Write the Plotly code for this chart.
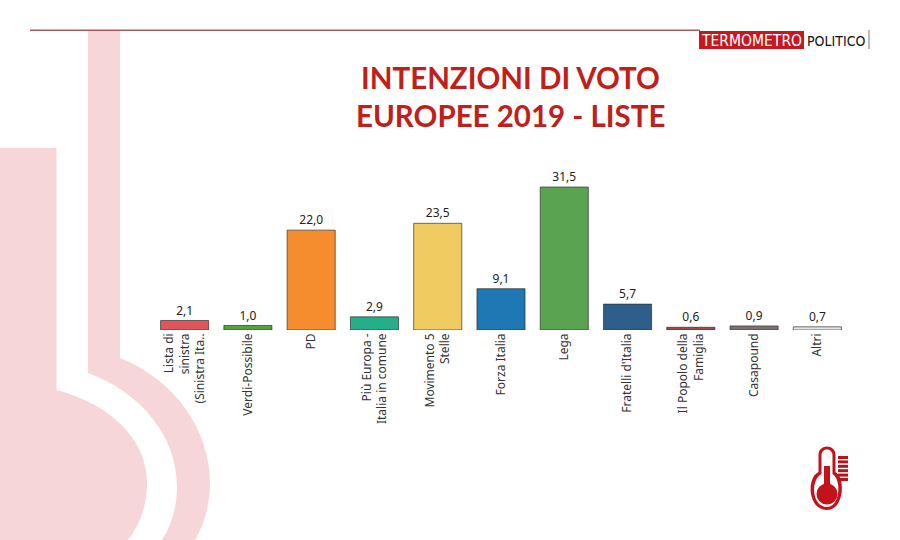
import plotly.graph_objects as go

categories = ["Lista di<br>sinistra<br>(Sinistra Ita..", "Verdi-Possibile", "PD",
              "Più Europa -<br>Italia in comune", "Movimento 5<br>Stelle", "Forza Italia",
              "Lega", "Fratelli d'Italia", "Il Popolo della<br>Famiglia", "Casapound", "Altri"]
values = [2.1, 1.0, 22.0, 2.9, 23.5, 9.1, 31.5, 5.7, 0.6, 0.9, 0.7]
bar_colors = ["#E0575B", "#55A23C", "#F58D2E", "#25AE88", "#EFCB62", "#1F77B4",
              "#5AA351", "#2D5F8A", "#A5474B", "#7B7272", "#E4E4E4"]
title_lines = ["INTENZIONI DI VOTO", "EUROPEE 2019 - LISTE"]

W, H = 900, 540
L, R, T, B = 153, 51, 170, 210
PW, PH = W - L - R, H - T - B
def px(x): return (x - L) / PW
def py(y): return 1 - (y - T) / PH
def path(cmds):
    out = []
    for c in cmds:
        if isinstance(c, str):
            out.append(c)
        else:
            out.append(f"{px(c[0]):.5f},{py(c[1]):.5f}")
    return " ".join(out)

PINK = "#F6D6D8"
RED = "#C4121A"
shapes = []
def shp(cmds, fill, layer="below"):
    shapes.append(dict(type="path", xref="paper", yref="paper", path=path(cmds),
                       fillcolor=fill, line=dict(width=0), layer=layer))
def circle(cx, cy, r, fill):
    shapes.append(dict(type="circle", xref="paper", yref="paper",
                       x0=px(cx - r), x1=px(cx + r), y0=py(cy + r), y1=py(cy - r),
                       fillcolor=fill, line=dict(width=0), layer="above"))
def rect(x0, y0, x1, y1, fill, layer="above"):
    shapes.append(dict(type="rect", xref="paper", yref="paper",
                       x0=px(x0), x1=px(x1), y0=py(y1), y1=py(y0),
                       fillcolor=fill, line=dict(width=0), layer=layer))

# background thermometer silhouette
shp(["M", (0, 148), "L", (56.5, 148), "L", (56.5, 390),
     "C", (112, 405), (147, 440), (147, 483),
     "C", (147, 505), (140, 525), (128, 540), "L", (0, 540), "Z"], PINK)
shp(["M", (88, 30), "L", (120, 30), "L", (120, 358),
     "C", (175, 380), (210, 430), (210, 483),
     "C", (210, 505), (204, 525), (195, 540), "L", (162, 540),
     "C", (172, 525), (177, 505), (177, 487),
     "C", (177, 435), (140, 392), (88, 373), "Z"], PINK)

# header rule and logo
rect(30, 29.5, 700, 31, "#A85A5C")
rect(699, 31, 804, 49, "#C8171F")
rect(868, 30, 870, 49, "#BBBBBB")

# thermometer icon
shp(["M", (818.5, 472), "L", (818.5, 455), "C", (818.5, 443.5), (835.5, 443.5), (835.5, 455), "L", (835.5, 472),
     "C", (846, 478), (844, 510), (827, 510), "C", (808, 510), (806, 478), (818.5, 472), "Z"], RED, "above")
shp(["M", (821.5, 474), "L", (821.5, 455), "C", (821.5, 447.5), (832.5, 447.5), (832.5, 455), "L", (832.5, 474),
     "C", (842, 480), (840, 507), (827, 507), "C", (812, 507), (810, 480), (821.5, 474), "Z"], "#FFFFFF", "above")
rect(824, 466, 830, 490, RED)
circle(827, 494, 10.5, RED)
for i in range(6):
    rect(838, 456 + i * 4.4, 848, 459 + i * 4.4, "#B5141C")

annotations = [
    dict(text=title_lines[0], x=px(510.5), y=py(77.5), xref="paper", yref="paper", showarrow=False,
         font=dict(family="Lato", size=29.5, color="#C0201C", weight="bold"), xanchor="center", yanchor="middle"),
    dict(text=title_lines[1], x=px(510.5), y=py(115.5), xref="paper", yref="paper", showarrow=False,
         font=dict(family="Lato", size=29.5, color="#C0201C", weight="bold"), xanchor="center", yanchor="middle"),
    dict(text="TERMOMETRO", x=px(751.5), y=py(40.5), xref="paper", yref="paper", showarrow=False,
         font=dict(family="DejaVu Sans Condensed", size=15.5, color="#FFFFFF"), xanchor="center", yanchor="middle"),
    dict(text="POLITICO", x=px(836), y=py(40.5), xref="paper", yref="paper", showarrow=False,
         font=dict(family="DejaVu Sans Condensed", size=14, color="#111111"), xanchor="center", yanchor="middle"),
]

fig = go.Figure(go.Bar(
    x=categories, y=values, width=0.76,
    marker=dict(color=bar_colors, line=dict(color="rgba(40,40,40,0.65)", width=1)),
))
fig.add_trace(go.Scatter(
    x=categories, y=values, mode="markers+text", texttemplate="%{y:.1f}", textposition="top center",
    marker=dict(size=3, opacity=0),
    cliponaxis=False, textfont=dict(family="Noto Sans", size=12, color="#222222"),
))
fig.update_layout(
    width=W, height=H, margin=dict(l=L, r=R, t=T, b=B, pad=0), autosize=False,
    plot_bgcolor="rgba(0,0,0,0)", paper_bgcolor="#FFFFFF", showlegend=False,
    separators=",.", shapes=shapes, annotations=annotations, bargap=0.24,
    xaxis=dict(type="category", range=[-0.5, 10.5], tickangle=-90, showgrid=False, zeroline=False, showline=False,
               ticks="", tickfont=dict(family="Noto Sans", size=12, color="#333333"), automargin=False),
    yaxis=dict(range=[0, 160 / (143 / 31.5)], visible=False, fixedrange=True),
)
fig.write_html("out.html", config={"displayModeBar": False}, post_script="document.body.style.margin='0';")
